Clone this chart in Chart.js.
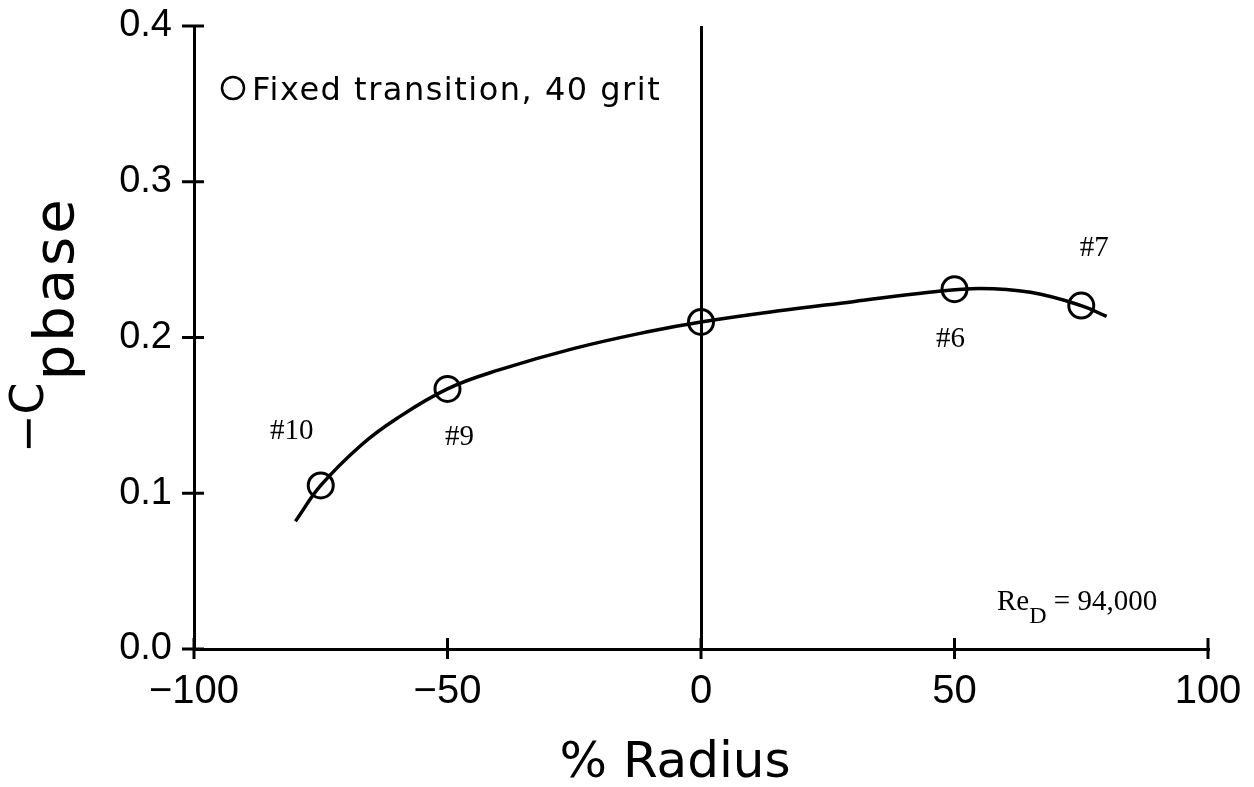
<!DOCTYPE html>
<html>
<head>
<meta charset="utf-8">
<script src="https://cdn.jsdelivr.net/npm/chart.js@4"></script>
<style>
  html, body { margin: 0; padding: 0; background: #fff; }
  #wrap { width: 1254px; height: 787px; }
</style>
</head>
<body>
<div id="wrap"><canvas id="chart" width="1254" height="787"></canvas></div>
<script>
// fitted curve
const curveX = [-80, -75, -67, -60, -50, -40, -25, -10, 0, 15, 30, 45, 55, 65, 75, 80];
const curveY = [0.082, 0.105, 0.131, 0.148, 0.167, 0.179, 0.193, 0.204, 0.210, 0.217, 0.223, 0.229, 0.2315, 0.229, 0.2205, 0.2135];

// measured stations
const pointX = [-75, -50, 0, 50, 75];
const pointY = [0.105, 0.167, 0.210, 0.231, 0.2205];
const pointTags = ['#10', '#9', '', '#6', '#7'];

const xTicks = [-100, -50, 0, 50, 100];
const yTicks = [0.0, 0.1, 0.2, 0.3, 0.4];

const legendLabel = 'Fixed transition, 40 grit';
const reynolds = '94,000';

const SANS = '"DejaVu Sans", sans-serif';
const NUM = '"Liberation Sans", Arial, sans-serif';
const SERIF = '"Liberation Serif", "Times New Roman", serif';

// label offsets (px) from their station
const tagOffsets = [[-29, -54], [12, 48], [0, 0], [-4, 50], [13, -57]];

const decorPlugin = {
  id: 'decor',
  afterDraw(chart) {
    const { ctx, chartArea, scales } = chart;
    const xs = scales.x, ys = scales.y;
    ctx.save();
    ctx.strokeStyle = '#000';
    ctx.fillStyle = '#000';
    ctx.lineWidth = 3;

    // tick marks crossing the axes
    const y0 = chartArea.bottom;
    xTicks.forEach((v) => {
      const px = xs.getPixelForValue(v);
      ctx.beginPath();
      ctx.moveTo(px, y0 - 11);
      ctx.lineTo(px, y0 + 10);
      ctx.stroke();
    });
    const x0 = chartArea.left;
    yTicks.forEach((v) => {
      const py = ys.getPixelForValue(v);
      ctx.beginPath();
      ctx.moveTo(x0 - 12, py);
      ctx.lineTo(x0 + 10, py);
      ctx.stroke();
    });

    // legend
    ctx.lineWidth = 2.5;
    ctx.beginPath();
    ctx.arc(233, 88, 11, 0, Math.PI * 2);
    ctx.stroke();
    ctx.font = '32px ' + SANS;
    ctx.letterSpacing = '1.5px';
    ctx.textAlign = 'left';
    ctx.textBaseline = 'alphabetic';
    ctx.fillText(legendLabel, 252, 100);
    ctx.letterSpacing = '0px';

    // x title
    ctx.font = '50px ' + SANS;
    ctx.textAlign = 'center';
    ctx.fillText('% Radius', 675, 777);

    // y title, rotated with subscript
    ctx.save();
    ctx.translate(43, 453);
    ctx.rotate(-Math.PI / 2);
    ctx.textAlign = 'left';
    ctx.font = '46px ' + SANS;
    ctx.fillText('\u2212C', 0, 0);
    const w = ctx.measureText('\u2212C').width;
    ctx.font = '56px ' + SANS;
    ctx.letterSpacing = '3px';
    ctx.fillText('pbase', w + 2, 30);
    ctx.letterSpacing = '0px';
    ctx.restore();

    // Reynolds number note
    ctx.textAlign = 'left';
    ctx.font = '29px ' + SERIF;
    let tx = 997;
    ctx.fillText('Re', tx, 610);
    tx += ctx.measureText('Re').width;
    ctx.font = '24px ' + SERIF;
    ctx.fillText('D', tx, 623);
    tx += ctx.measureText('D').width;
    ctx.font = '29px ' + SERIF;
    ctx.fillText(' = ' + reynolds, tx, 610);

    // station tags
    ctx.font = '29px ' + SERIF;
    ctx.textAlign = 'center';
    ctx.textBaseline = 'middle';
    pointTags.forEach((t, i) => {
      if (!t) return;
      const px = xs.getPixelForValue(pointX[i]) + tagOffsets[i][0];
      const py = ys.getPixelForValue(pointY[i]) + tagOffsets[i][1];
      ctx.fillText(t, px, py);
    });
    ctx.restore();
  },
};

const config = {
  type: 'scatter',
  data: {
    datasets: [
      {
        label: 'fit',
        data: curveX.map((x, i) => ({ x, y: curveY[i] })),
        showLine: true,
        borderColor: '#000',
        borderWidth: 3.5,
        pointRadius: 0,
        tension: 0.4,
      },
      {
        label: legendLabel,
        data: pointX.map((x, i) => ({ x, y: pointY[i] })),
        showLine: false,
        pointRadius: 12.5,
        pointBorderWidth: 3,
        pointBorderColor: '#000',
        pointBackgroundColor: 'rgba(0,0,0,0)',
      },
    ],
  },
  plugins: [decorPlugin],
  options: {
    responsive: false,
    animation: false,
    layout: { padding: { top: 26, right: 46, left: 0, bottom: 0 } },
    plugins: {
      legend: { display: false },
      tooltip: { enabled: false },
    },
    scales: {
      x: {
        type: 'linear',
        min: -100,
        max: 100,
        afterFit: (s) => {
          s.height = 138;
          s.paddingLeft = 0;
          s.paddingRight = 0;
        },
        afterBuildTicks: (s) => { s.ticks = xTicks.map((v) => ({ value: v })); },
        border: { display: true, color: '#000', width: 3 },
        grid: {
          drawTicks: false,
          lineWidth: 3,
          color: (c) => (c.tick && c.tick.value === 0 ? '#000' : 'rgba(0,0,0,0)'),
        },
        ticks: {
          color: '#000',
          padding: 19,
          font: { family: NUM, size: 40 },
          callback: (v) => (v < 0 ? '\u2212' + Math.abs(v) : String(v)),
        },
      },
      y: {
        type: 'linear',
        min: 0,
        max: 0.4,
        afterFit: (s) => {
          s.width = 194;
          s.paddingTop = 0;
          s.paddingBottom = 0;
        },
        afterBuildTicks: (s) => { s.ticks = yTicks.map((v) => ({ value: v })); },
        border: { display: true, color: '#000', width: 3 },
        grid: { display: false, drawTicks: false },
        ticks: {
          color: '#000',
          padding: 22,
          font: { family: NUM, size: 38 },
          callback: (v) => Number(v).toFixed(1),
        },
      },
    },
  },
};

new Chart(document.getElementById('chart'), config);
</script>
</body>
</html>
